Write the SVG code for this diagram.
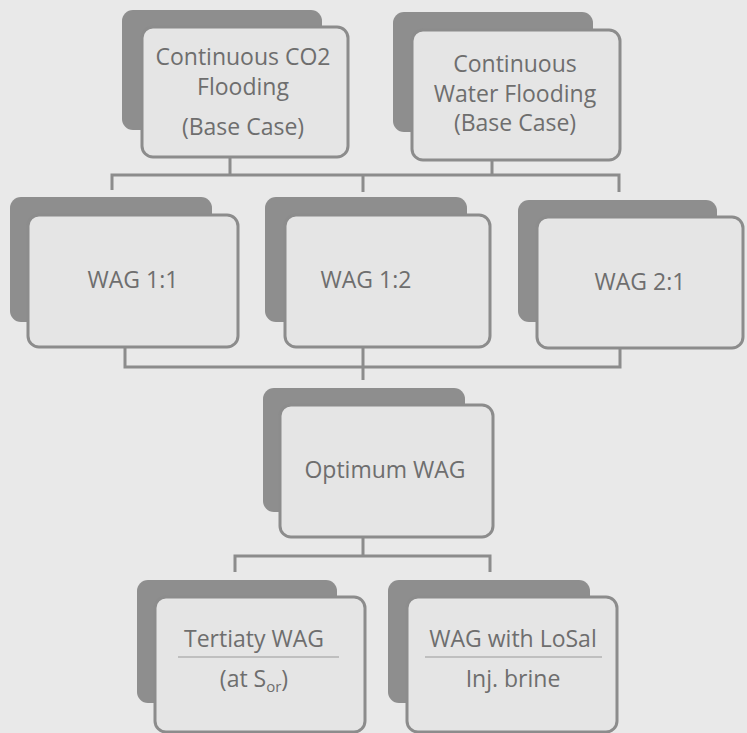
<svg xmlns="http://www.w3.org/2000/svg" width="747" height="733" viewBox="0 0 747 733">
<style>
.bg{fill:#e9e9e9}
.sh{fill:#8e8e8e}
.fr{fill:#e5e5e5;stroke:#8c8c8c;stroke-width:3}
.t{font-family:"Open Sans","Liberation Sans",sans-serif;font-size:23px;fill:#6e6e6e;text-anchor:middle}
.c{fill:none;stroke:#8c8c8c;stroke-width:3}
.u{stroke:#9a9a9a;stroke-width:1.2}
</style>
<rect class="bg" x="0" y="0" width="747" height="733"/>
<g id="connectors">
<path class="c" d="M230 157V175M112 190V175H619V192M363 175V192M492 160V175"/>
<path class="c" d="M125 347V367H620V348M363 347V380"/>
<path class="c" d="M363 537V556M235 572V556H490V572"/>
</g>
<g id="co2">
<rect class="sh" x="122" y="10" width="200" height="120" rx="11"/>
<rect class="fr" x="142" y="27" width="206" height="130" rx="11"/>
<text class="t" x="243" y="65">Continuous CO2</text>
<text class="t" x="243" y="95">Flooding</text>
<text class="t" x="243" y="135">(Base Case)</text>
</g>
<g id="water">
<rect class="sh" x="393" y="12" width="200" height="120" rx="11"/>
<rect class="fr" x="412" y="30" width="208" height="130" rx="11"/>
<text class="t" x="515" y="72">Continuous</text>
<text class="t" x="515" y="102">Water Flooding</text>
<text class="t" x="515" y="131">(Base Case)</text>
</g>
<g id="wag11">
<rect class="sh" x="10" y="197" width="202" height="125" rx="11"/>
<rect class="fr" x="28" y="215" width="210" height="132" rx="11"/>
<text class="t" x="133" y="288">WAG 1:1</text>
</g>
<g id="wag12">
<rect class="sh" x="265" y="197" width="202" height="125" rx="11"/>
<rect class="fr" x="285" y="215" width="205" height="132" rx="11"/>
<text class="t" x="366" y="288">WAG 1:2</text>
</g>
<g id="wag21">
<rect class="sh" x="518" y="200" width="199" height="122" rx="11"/>
<rect class="fr" x="537" y="217" width="206" height="131" rx="11"/>
<text class="t" x="640" y="290">WAG 2:1</text>
</g>
<g id="optimum">
<rect class="sh" x="263" y="388" width="202" height="124" rx="11"/>
<rect class="fr" x="280" y="405" width="213" height="132" rx="11"/>
<text class="t" x="385" y="478">Optimum WAG</text>
</g>
<g id="tertiary">
<rect class="sh" x="137" y="580" width="200" height="123" rx="11"/>
<rect class="fr" x="155" y="597" width="210" height="135" rx="11"/>
<text class="t" x="254" y="647">Tertiaty WAG</text>
<line class="u" x1="178" y1="657" x2="339" y2="657"/>
<text class="t" x="254" y="687">(at S<tspan font-size="15" dy="5">or</tspan><tspan dy="-5">)</tspan></text>
</g>
<g id="losal">
<rect class="sh" x="388" y="580" width="202" height="123" rx="11"/>
<rect class="fr" x="407" y="597" width="210" height="135" rx="11"/>
<text class="t" x="513" y="647">WAG with LoSal</text>
<line class="u" x1="425" y1="657" x2="602" y2="657"/>
<text class="t" x="513" y="687">Inj. brine</text>
</g>
</svg>
